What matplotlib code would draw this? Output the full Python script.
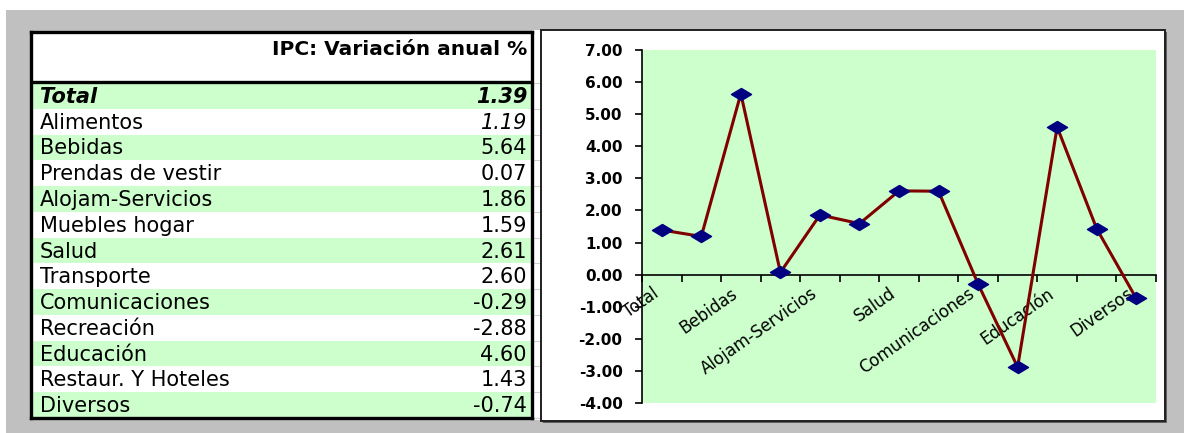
import matplotlib
matplotlib.use("Agg")
import matplotlib.pyplot as plt
import matplotlib.transforms as mtransforms
from matplotlib.patches import Rectangle
from matplotlib.path import Path

# data
categories = ["Total", "Alimentos", "Bebidas", "Prendas de vestir",
              "Alojam-Servicios", "Muebles hogar", "Salud", "Transporte",
              "Comunicaciones", "Recreación", "Educación",
              "Restaur. Y Hoteles", "Diversos"]
values = [1.39, 1.19, 5.64, 0.07, 1.86, 1.59, 2.61, 2.60,
          -0.29, -2.88, 4.60, 1.43, -0.74]
title = "IPC: Variación anual %"
y_ticks = [7, 6, 5, 4, 3, 2, 1, 0, -1, -2, -3, -4]

W, H = 1184, 433
GREEN = "#ccffcc"
GRAY = "#c0c0c0"


def px_rect(x0, y0, x1, y1):
    # pixel box (top-left origin) -> figure fraction
    return [x0 / W, 1 - y1 / H, (x1 - x0) / W, (y1 - y0) / H]


def fig_box(fig, x0, y0, x1, y1, **kw):
    r = px_rect(x0, y0, x1, y1)
    fig.add_artist(Rectangle((r[0], r[1]), r[2], r[3],
                             transform=fig.transFigure, zorder=-1, **kw))


fig = plt.figure(figsize=(W / 100, H / 100), dpi=100, facecolor=GRAY)

# white strips at the top and left edge
fig_box(fig, 0, 0, W, 10, fc="white", ec="none")
fig_box(fig, 0, 0, 6, H, fc="white", ec="none")

# sheet cells between table and chart
fig_box(fig, 532, 30, 541, 420, fc="white", ec="none")

# ---- table ----
t_x0, t_y0, t_x1, t_y1 = 31, 32, 532, 418
row_top = 83
row_h = (t_y1 - row_top) / len(categories)

ax_t = fig.add_axes(px_rect(t_x0, t_y0, t_x1, t_y1))
ax_t.set_xlim(t_x0, t_x1)
ax_t.set_ylim(t_y1, t_y0)
ax_t.set_xticks([])
ax_t.set_yticks([])
ax_t.set_facecolor("white")
for s in ax_t.spines.values():
    s.set_linewidth(2.4)
    s.set_color("black")
    s.set_zorder(5)

ax_t.text(t_x1 - 5, 49, title, ha="right", va="center",
          fontsize=14.5, fontweight="bold", family="DejaVu Sans")

for i, (name, val) in enumerate(zip(categories, values)):
    y0 = row_top + i * row_h
    fc = GREEN if i % 2 == 0 else "white"
    ax_t.add_patch(Rectangle((t_x0, y0), t_x1 - t_x0, row_h, fc=fc, ec="none"))
    name_kw = dict(fontsize=15, family="DejaVu Sans", va="center")
    val_kw = dict(fontsize=15, family="DejaVu Sans", va="center", ha="right")
    if i == 0:
        name_kw.update(fontweight="bold", style="italic")
        val_kw.update(fontweight="bold", style="italic")
    if i == 1:
        val_kw.update(style="italic")
    ax_t.text(40, y0 + row_h / 2 + 1, name, **name_kw)
    ax_t.text(t_x1 - 5, y0 + row_h / 2 + 1, f"{val:.2f}", **val_kw)

ax_t.plot([t_x0, t_x1], [82, 82], color="black", lw=2.4, zorder=5)

# light cell lines right of the table
for i in range(len(categories) + 1):
    y = row_top + i * row_h
    r = px_rect(533, y, 541, y)
    fig.add_artist(plt.Line2D([r[0], r[0] + r[2]], [r[1], r[1]],
                              transform=fig.transFigure, color="#d0d0d0",
                              lw=0.8, zorder=-1))

# ---- chart panel ----
fig_box(fig, 543, 32, 1167, 423, fc="#606060", ec="none")
fig_box(fig, 541, 30, 1165, 421, fc="white", ec="#202020", lw=1.4)

ax = fig.add_axes(px_rect(642, 50, 1156, 403))
ax.set_facecolor(GREEN)
x = list(range(len(categories)))

diamond = Path([(-1, 0), (0, 0.6), (1, 0), (0, -0.6), (-1, 0)],
               [Path.MOVETO, Path.LINETO, Path.LINETO, Path.LINETO, Path.CLOSEPOLY])
ax.plot(x, values, color="#800000", lw=2.2, zorder=3,
        marker=diamond, markersize=14.5, markerfacecolor="#000080",
        markeredgecolor="#000080", clip_on=False)

ax.set_xlim(-0.5, len(categories) - 0.5)
ax.set_ylim(-4, 7)

for side in ["top", "right"]:
    ax.spines[side].set_visible(False)
ax.spines["bottom"].set_position(("data", 0))
ax.spines["bottom"].set_linewidth(1.2)
ax.spines["left"].set_linewidth(1.2)

ax.set_yticks(y_ticks)
ax.set_yticklabels([f"{v:.2f}" for v in y_ticks], fontsize=11,
                   fontweight="bold", family="DejaVu Sans")
ax.tick_params(axis="y", direction="out", length=5, width=1.2, pad=9)

ax.set_xticks(x)
ax.set_xticklabels([c if i % 2 == 0 else "" for i, c in enumerate(categories)],
                   rotation=35, ha="right", va="top", rotation_mode="anchor",
                   fontsize=12, family="DejaVu Sans")
ax.set_xticks([i - 0.5 for i in range(len(categories) + 1)], minor=True)
ax.tick_params(axis="x", which="major", length=0, pad=7)
ax.tick_params(axis="x", which="minor", direction="out", length=5, width=1.2)

shift = mtransforms.ScaledTranslation(-0.1, 0, fig.dpi_scale_trans)
for lab in ax.get_xticklabels():
    lab.set_transform(lab.get_transform() + shift)

fig.savefig("out.png", dpi=100, facecolor=GRAY)
